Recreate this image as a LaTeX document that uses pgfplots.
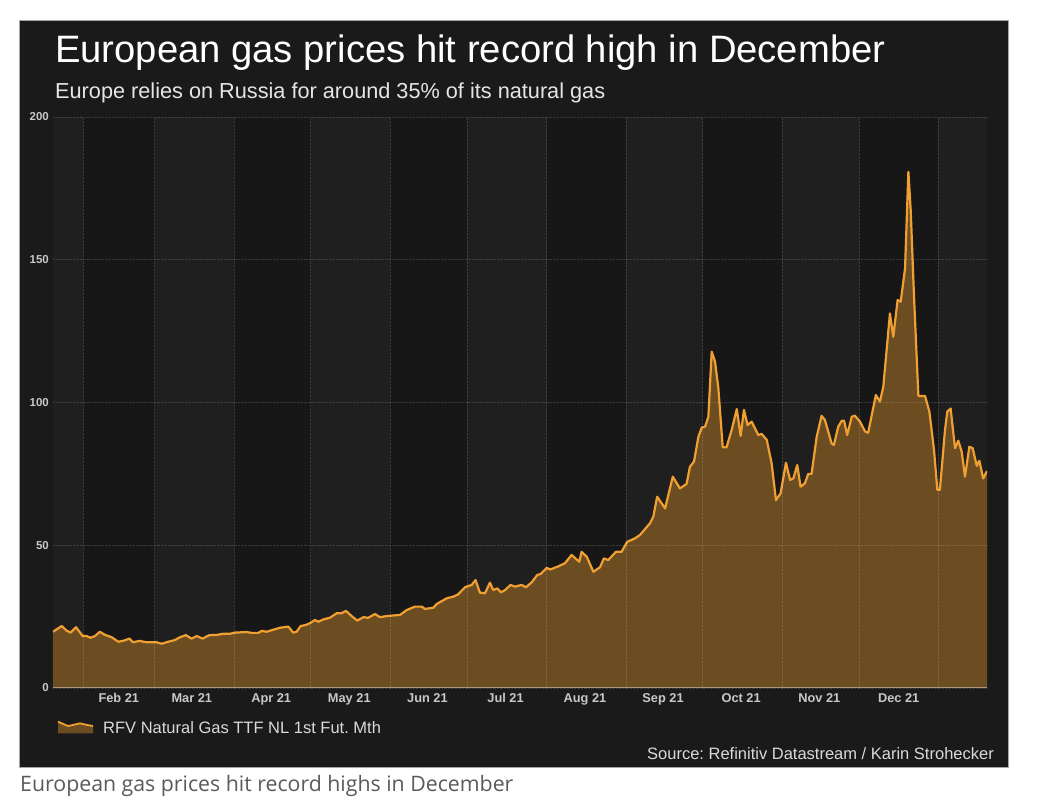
\documentclass[border=0pt]{standalone}
\usepackage{fontspec}
\setmainfont{Liberation Sans}
\newfontfamily\capfont{Open Sans}
\usepackage{pgfplots}
\usepackage{pgfplotstable}
\pgfplotsset{compat=1.18}
\frenchspacing
\definecolor{panel}{RGB}{26,26,26}
\definecolor{darkband}{RGB}{23,23,23}
\definecolor{lightband}{RGB}{31,31,31}
\definecolor{fillcol}{RGB}{108,76,33}
\definecolor{linecol}{RGB}{240,160,50}
\definecolor{axcol}{RGB}{170,150,120}
\definecolor{ticktext}{RGB}{200,200,200}
\definecolor{legtext}{RGB}{218,218,218}
\definecolor{captext}{RGB}{90,90,90}

\pgfplotstableread{
d v
19.3 19.7
22.7 21.7
24.6 20.1
26.2 19.4
28.3 21.3
30.9 18.2
32.4 18.2
34.0 17.6
35.7 18.2
37.6 19.7
39.6 18.6
42.2 17.8
44.8 16.2
47.0 16.6
49.1 17.3
50.6 16.0
53.0 16.5
55.9 16.0
59.8 16.0
61.7 15.5
64.3 16.2
66.9 16.8
68.9 17.8
71.2 18.5
73.4 17.3
75.4 18.2
77.7 17.3
80.3 18.5
83.2 18.6
85.8 19.0
88.4 19.0
90.4 19.4
94.9 19.6
96.9 19.3
99.5 19.3
100.8 20.0
102.7 19.7
105.3 20.4
107.9 21.1
111.2 21.5
113.1 19.4
114.4 19.7
116.0 21.7
118.1 22.1
119.6 22.7
121.6 23.8
122.9 23.2
124.8 24.0
127.4 24.6
130.1 26.2
132.0 26.2
133.7 27.0
135.9 25.2
138.1 23.6
140.5 24.8
142.4 24.6
145.0 25.9
147.0 24.8
149.6 25.2
154.8 25.6
157.4 27.3
160.6 28.5
163.3 28.5
164.5 27.7
167.8 28.1
169.1 29.4
173.0 31.4
175.6 32.0
177.5 32.8
180.2 35.3
182.8 36.1
184.3 37.8
186.0 33.4
188.0 33.2
189.9 36.9
191.2 34.3
192.8 34.9
194.2 33.5
195.8 34.3
198.0 36.1
199.7 35.5
202.3 36.1
204.0 35.3
206.2 37.0
208.4 39.6
209.7 39.9
212.1 42.1
213.4 41.5
216.6 42.6
219.2 43.7
221.8 46.6
224.8 44.2
225.7 47.7
227.7 46.0
230.3 40.7
232.9 42.3
234.4 45.4
236.1 44.8
239.1 47.7
241.3 47.7
243.5 51.2
246.5 52.4
248.5 53.6
252.4 57.7
253.7 60.0
255.2 67.0
258.3 62.9
261.3 74.0
264.1 69.9
266.7 71.5
268.0 77.5
269.6 79.3
271.3 88.0
272.6 91.2
273.9 91.5
275.2 95.0
276.5 117.8
277.8 114.3
279.1 105.0
280.8 84.3
282.3 84.3
284.3 90.4
286.3 97.7
287.8 88.3
289.1 97.4
290.5 92.1
292.1 93.3
294.7 88.6
296.0 89.0
298.0 86.9
299.9 78.7
301.6 65.8
303.4 68.2
305.5 78.9
307.1 72.9
308.4 73.4
309.9 78.1
311.2 70.5
312.9 71.7
314.2 75.0
315.5 75.0
317.5 88.0
319.4 95.3
320.7 93.9
323.3 85.7
324.2 85.1
325.9 91.5
327.3 93.6
328.2 93.6
329.4 88.6
331.2 95.0
332.4 95.4
334.4 93.3
336.4 89.8
337.6 89.4
340.6 102.6
342.2 100.3
343.5 105.5
346.1 131.2
347.4 123.0
349.1 135.9
350.3 135.3
352.0 147.0
353.3 180.8
354.2 167.4
355.5 137.1
357.2 102.3
359.8 102.3
361.5 96.8
363.3 83.4
364.6 69.4
365.6 69.4
367.6 90.4
368.5 96.8
369.8 97.9
371.5 84.0
372.8 86.6
374.1 82.8
375.4 74.0
377.1 84.5
378.4 84.0
380.0 77.8
381.0 79.6
382.5 73.4
384.0 76.0
}\gasdata

\begin{document}
\begin{tikzpicture}[x=1pt,y=1pt]
% page background
\fill[white] (0,0) rectangle (1050,800);
% dark panel
\fill[panel] (19,33) rectangle (1008,780);
\draw[gray!70, line width=0.8pt] (19,33) rectangle (1008,780);
% titles
\node[anchor=base west, inner sep=0pt, text=white] at (55,737)
  {\fontsize{38.2}{42}\selectfont European gas prices hit record high in December};
\node[anchor=base west, inner sep=0pt, text=white!90!black] at (55,701)
  {\fontsize{21.7}{24}\selectfont Europe relies on Russia for around 35\% of its natural gas};

\begin{axis}[
  at={(53pt,112pt)}, anchor=south west,
  scale only axis, width=934pt, height=571pt,
  xmin=19.3, xmax=384, ymin=0, ymax=200,
  axis background/.style={fill=darkband},
  axis line style={draw=none},
  axis on top,
  clip=true,
  xtick={45,73.5,104.5,135,165.5,196,227,257.5,288,318.5,349.5},
  xticklabels={Feb 21,Mar 21,Apr 21,May 21,Jun 21,Jul 21,Aug 21,Sep 21,Oct 21,Nov 21,Dec 21},
  minor xtick={31,59,90,120,151,181,212,243,273,304,334,365},
  xminorgrids=true,
  ytick={0,50,100,150,200},
  ymajorgrids=true,
  major tick length=0pt, minor tick length=0pt,
  minor grid style={white, opacity=0.14, densely dotted, line width=0.8pt},
  major grid style={white, opacity=0.14, densely dotted, line width=0.8pt},
  /pgf/number format/assume math mode=true,
  xticklabel style={font=\bfseries\fontsize{12.8}{14}\selectfont, text=ticktext, anchor=base, yshift=-15pt, inner sep=0pt},
  yticklabel style={font=\bfseries\fontsize{11.5}{13}\selectfont, text=ticktext, anchor=east, inner sep=0pt, xshift=-4pt},
]
% alternating month bands
\fill[lightband] (axis cs:19.3,0) rectangle (axis cs:31,200);
\fill[lightband] (axis cs:59,0) rectangle (axis cs:90,200);
\fill[lightband] (axis cs:120,0) rectangle (axis cs:151,200);
\fill[lightband] (axis cs:181,0) rectangle (axis cs:212,200);
\fill[lightband] (axis cs:243,0) rectangle (axis cs:273,200);
\fill[lightband] (axis cs:304,0) rectangle (axis cs:334,200);
\fill[lightband] (axis cs:365,0) rectangle (axis cs:384,200);
\addplot[draw=none, fill=fillcol, forget plot] table[x=d,y=v] {\gasdata} \closedcycle;
\addplot[draw=linecol, line width=2.2pt, line join=round, no marks, forget plot] table[x=d,y=v] {\gasdata};
\draw[axcol, line width=1.5pt] (rel axis cs:0,0) -- (rel axis cs:1,0);
\end{axis}

% legend
\fill[fillcol] (58,66.7) -- (58,78.3) -- (68,74) -- (73,75) -- (80,76.7) -- (87,75) -- (93,74) -- (93,66.7) -- cycle;
\draw[linecol, line width=1.8pt, line join=round] (58,78.3) -- (68,74) -- (73,75) -- (80,76.7) -- (87,75) -- (93,74);
\node[anchor=base west, inner sep=0pt, text=legtext] at (103,66)
  {\fontsize{16.5}{18}\selectfont RFV Natural Gas TTF NL 1st Fut. Mth};
% source
\node[anchor=base east, inner sep=0pt, text=legtext] at (994,40)
  {\fontsize{16.5}{18}\selectfont Source: Refinitiv Datastream / Karin Strohecker};
% caption below the panel
\node[anchor=base west, inner sep=0pt, text=captext] at (20,8)
  {\capfont\fontsize{21.3}{24}\selectfont European gas prices hit record highs in December};

\pgfresetboundingbox
\path[use as bounding box] (0,0) rectangle (1050,800);
\end{tikzpicture}
\end{document}
